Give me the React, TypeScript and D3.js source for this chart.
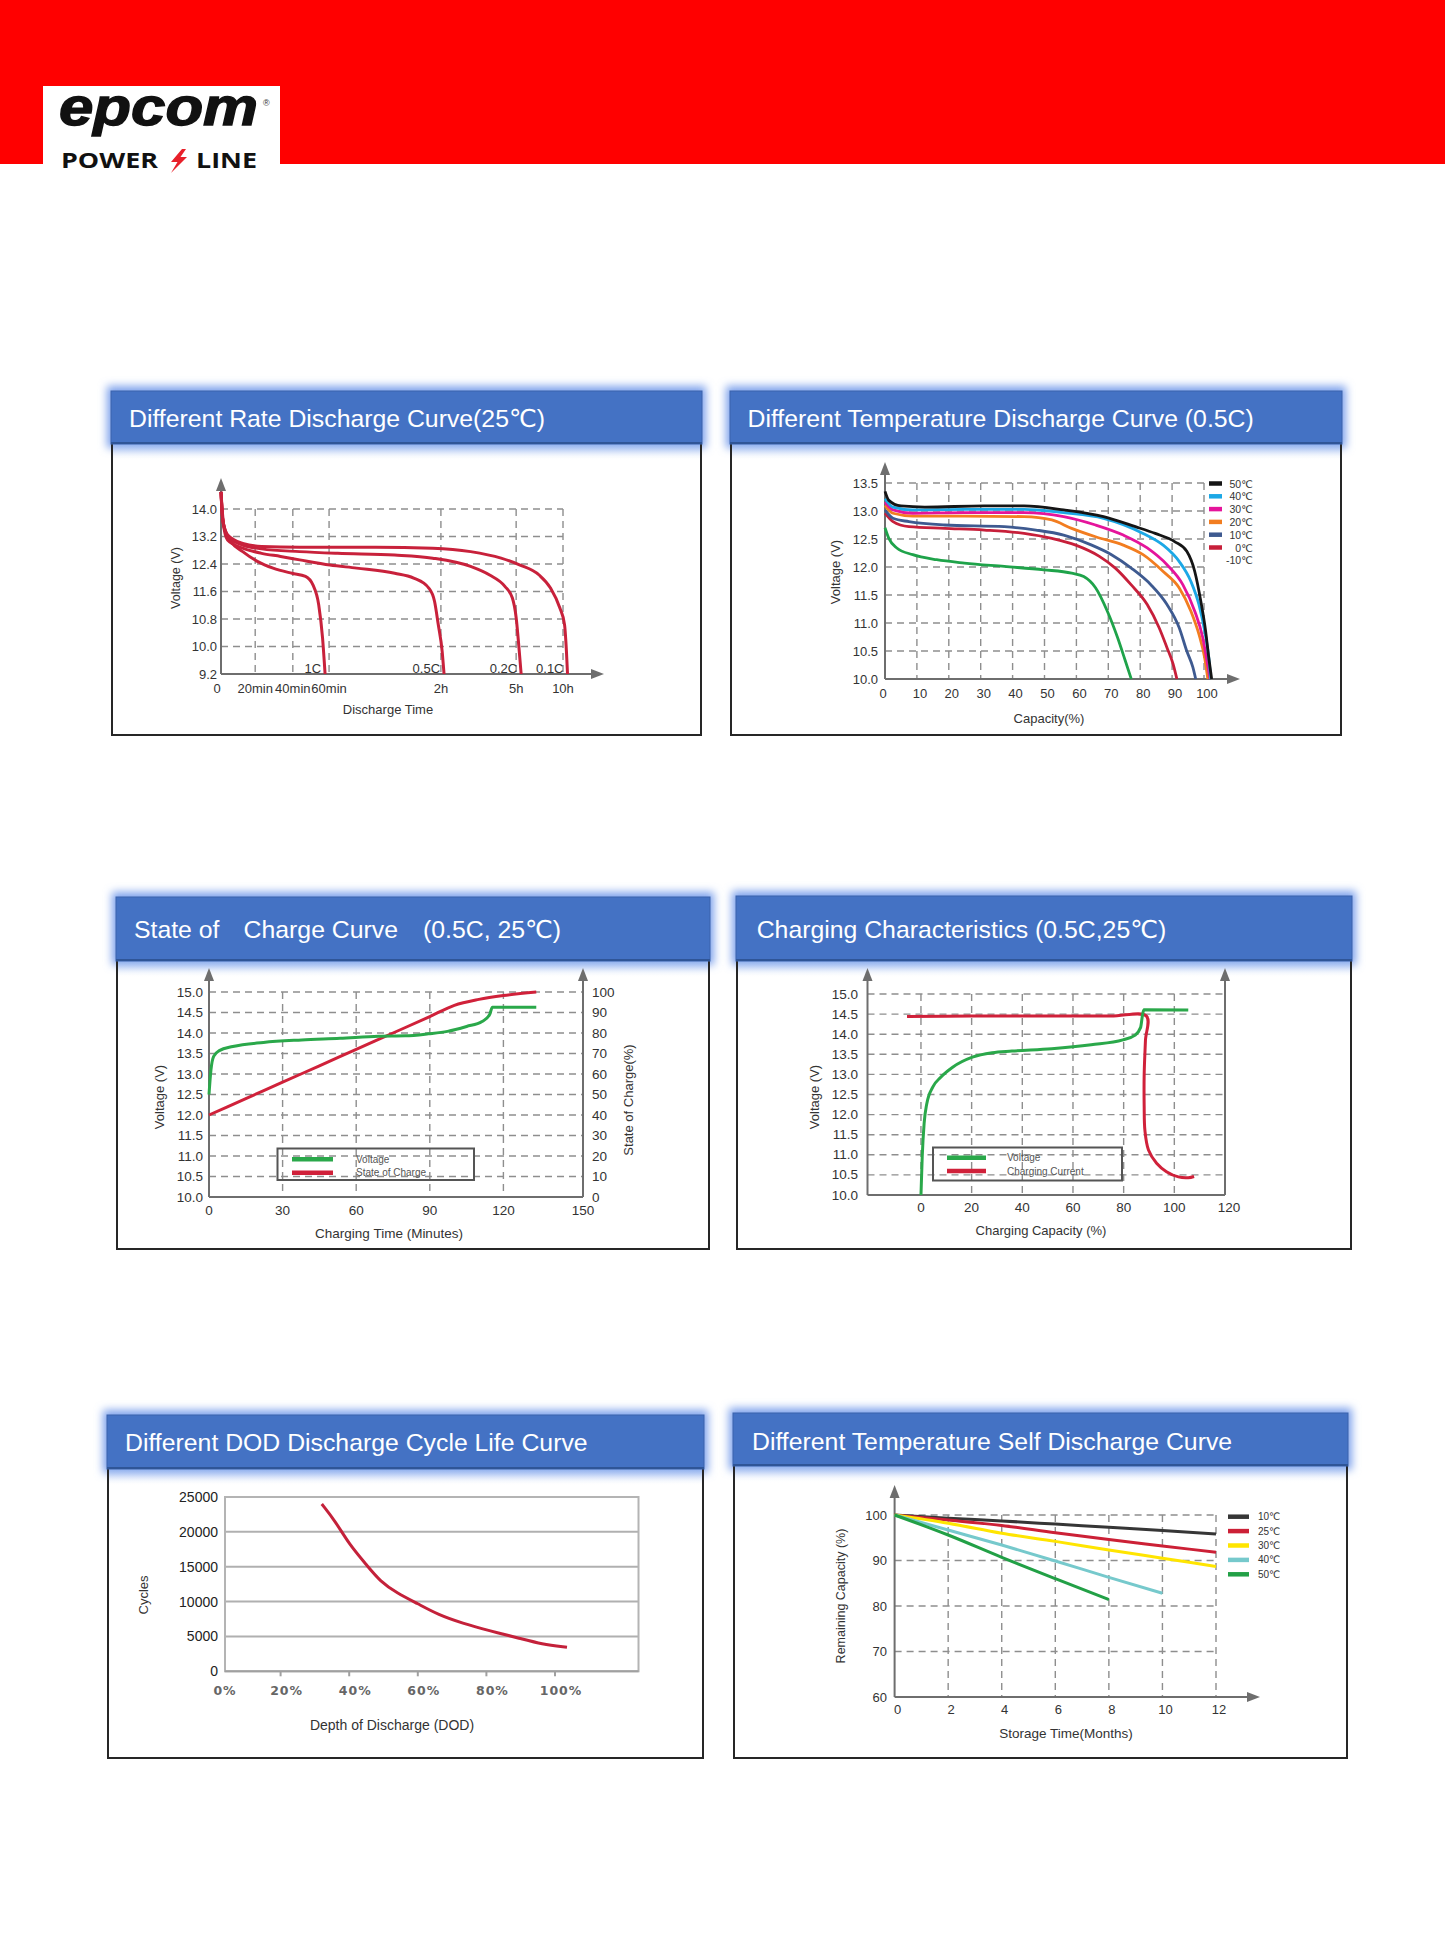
import React from 'react';
import * as d3 from 'd3';

type Pt = [number, number];

// ---------- Different Rate Discharge Curve (25℃): minutes vs volts ----------
const rateTimeTicks = [0, 20, 40, 60, 120, 300, 600];
const rateTimeLabels = ['0', '20min', '40min', '60min', '2h', '5h', '10h'];
const rateVoltTicks = [9.2, 10.0, 10.8, 11.6, 12.4, 13.2, 14.0];
const rate1C: Pt[] = [[0, 14.5], [1.6, 13.54], [6, 13.05], [12.7, 12.76], [21.4, 12.47], [29.5, 12.28], [39.6, 12.13], [47, 12.04], [51.1, 11.79], [54.3, 11.21], [56.4, 10.25], [57.8, 9.2]];
const rate05C: Pt[] = [[0, 14.5], [1, 13.7], [3.8, 13.1], [12.7, 12.86], [23.4, 12.71], [33.5, 12.62], [43.8, 12.52], [60.5, 12.37], [74.8, 12.28], [95.2, 12.13], [105.4, 11.99], [113.5, 11.7], [116.6, 11.31], [118.6, 10.63], [123, 9.86], [127.5, 9.2]];
const rate02C: Pt[] = [[0, 14.5], [1, 13.7], [3.8, 13.2], [12.7, 12.95], [23.4, 12.84], [43.8, 12.76], [64.6, 12.71], [95.2, 12.66], [115.6, 12.57], [191, 12.33], [236.6, 12.08], [273, 11.75], [291, 11.41], [300.3, 10.83], [320, 9.86], [332, 9.2]];
const rate01C: Pt[] = [[0, 14.5], [1, 13.7], [3.8, 13.25], [12.7, 13.0], [23.4, 12.91], [43.8, 12.89], [85, 12.89], [115.6, 12.86], [191, 12.76], [264, 12.57], [325, 12.37], [447, 12.08], [520, 11.7], [580, 11.12], [610, 10.63], [622, 9.86], [629, 9.2]];
const rateNames = ['1C', '0.5C', '0.2C', '0.1C'];
const rateCurves = [rate1C, rate05C, rate02C, rate01C];

// ---------- Different Temperature Discharge Curve (0.5C): capacity % vs volts ----------
const capTicks = [0, 10, 20, 30, 40, 50, 60, 70, 80, 90, 100];
const tempVoltTicks = [10.0, 10.5, 11.0, 11.5, 12.0, 12.5, 13.0, 13.5];
const temp50: Pt[] = [[0, 13.35], [1.2, 13.19], [5, 13.09], [12.5, 13.07], [31.1, 13.09], [43.6, 13.09], [56, 13.02], [68.5, 12.9], [78.5, 12.72], [84.7, 12.6], [90.9, 12.45], [94.6, 12.28], [97.1, 11.92], [99, 11.39], [100.5, 10.86], [101.5, 10.38], [102.4, 10.0]];
const temp40: Pt[] = [[0, 13.22], [2.5, 13.07], [8.7, 13.02], [24.9, 13.03], [43.6, 13.03], [56, 12.97], [68.5, 12.87], [80.9, 12.6], [87.2, 12.39], [92.2, 12.1], [95.9, 11.74], [98.4, 11.33], [100.2, 10.86], [101.5, 10.38], [102.1, 10.0]];
const temp30: Pt[] = [[0, 13.16], [2.5, 13.02], [8.7, 12.96], [24.9, 12.97], [43.6, 12.97], [56, 12.9], [66, 12.75], [74.7, 12.57], [82.2, 12.34], [88.4, 12.04], [93.4, 11.68], [97.1, 11.21], [99.6, 10.74], [100.9, 10.33], [101.9, 10.0]];
const temp20: Pt[] = [[0, 13.1], [2.5, 12.96], [8.7, 12.91], [24.9, 12.91], [43.6, 12.9], [52.3, 12.84], [58.5, 12.69], [66, 12.54], [74.7, 12.39], [80.9, 12.22], [87.2, 11.92], [92.2, 11.63], [95.9, 11.21], [98.4, 10.8], [100.2, 10.38], [101.2, 10.0]];
const temp10: Pt[] = [[0, 13.02], [2.5, 12.87], [7.5, 12.81], [18.7, 12.75], [37.4, 12.72], [47.3, 12.66], [56, 12.57], [64.8, 12.39], [71, 12.22], [77.2, 11.98], [83.4, 11.68], [88.4, 11.33], [92.2, 10.92], [94.6, 10.5], [96.5, 10.21], [97.4, 10.0]];
const temp0: Pt[] = [[0, 12.96], [2.5, 12.81], [7.5, 12.72], [18.7, 12.69], [31.1, 12.66], [43.6, 12.6], [52.3, 12.51], [59.8, 12.39], [67.2, 12.19], [72.2, 11.98], [77.2, 11.68], [82.2, 11.33], [85.9, 10.92], [88.4, 10.56], [90.3, 10.27], [91.5, 10.0]];
const tempMinus10: Pt[] = [[0, 12.7], [1.2, 12.51], [3.7, 12.34], [8.7, 12.22], [16.2, 12.13], [24.9, 12.07], [37.4, 12.01], [49.8, 11.95], [58.5, 11.89], [62.3, 11.83], [66, 11.63], [69.7, 11.21], [72.9, 10.74], [75.3, 10.33], [77.2, 10.0]];
const tempNames = ['50℃', '40℃', '30℃', '20℃', '10℃', '0℃', '-10℃'];
const tempColors = ['#151515', '#1ca8e6', '#e5149b', '#f27d20', '#3e5a90', '#c71f3a', '#1fa34a'];
const tempCurves = [temp50, temp40, temp30, temp20, temp10, temp0, tempMinus10];
const tempSwatch = [true, true, true, true, true, true, false];

// ---------- State of Charge Curve (0.5C, 25℃) ----------
const socTimeTicks = [0, 30, 60, 90, 120, 150];
const chargeVoltTicks = [10.0, 10.5, 11.0, 11.5, 12.0, 12.5, 13.0, 13.5, 14.0, 14.5, 15.0];
const socPctTicks = [0, 10, 20, 30, 40, 50, 60, 70, 80, 90, 100];
const socVoltage: Pt[] = [[0, 12.5], [0.8, 13.1], [1.9, 13.43], [4.2, 13.57], [9.7, 13.67], [22.2, 13.77], [37.8, 13.83], [53.4, 13.87], [69.1, 13.92], [80, 13.93], [89.4, 13.98], [97.2, 14.04], [105, 14.16], [111.3, 14.28], [114.4, 14.45], [115.5, 14.63], [116.5, 14.63], [133.4, 14.63]];
const socCharge: Pt[] = [[0, 40], [15, 48], [30, 56], [45, 64], [60, 72], [75, 80], [90, 88], [100, 93.5], [110, 96.4], [120, 98.3], [133.4, 100]];

// ---------- Charging Characteristics (0.5C, 25℃) ----------
const chgCapTicks = [0, 20, 40, 60, 80, 100, 120];
const chgVoltage: Pt[] = [[0, 10.0], [0.5, 10.95], [1.25, 11.78], [2.3, 12.27], [4.7, 12.69], [7.8, 12.93], [12.5, 13.18], [20.3, 13.43], [28.1, 13.54], [35.9, 13.58], [51.6, 13.64], [67.2, 13.74], [79.7, 13.86], [84.4, 13.97], [86.7, 14.17], [87.5, 14.5], [88, 14.61], [105.5, 14.6]];
const chgCurrent: Pt[] = [[-5.5, 14.44], [20, 14.45], [50, 14.45], [75, 14.45], [89, 14.45], [88.6, 13.84], [88.1, 13.0], [88.1, 12.2], [88.4, 11.6], [89.8, 11.12], [93, 10.79], [96.9, 10.58], [101.6, 10.45], [105.5, 10.43], [107.8, 10.46]];

// ---------- Different DOD Discharge Cycle Life Curve ----------
const dodTicks = [0, 0.2, 0.4, 0.6, 0.8, 1.0];
const cycleTicks = [0, 5000, 10000, 15000, 20000, 25000];
const dodDepth = [0.32, 0.36, 0.4, 0.45, 0.49, 0.54, 0.6, 0.66, 0.73, 0.81, 0.9, 0.96, 1.035];
const dodCycles = [24000, 21500, 18200, 15300, 12900, 11200, 9700, 8100, 6900, 5800, 4700, 3900, 3450];

// ---------- Different Temperature Self Discharge Curve ----------
const storeMonthTicks = [0, 2, 4, 6, 8, 10, 12];
const remainTicks = [60, 70, 80, 90, 100];
const selfMonths = [0, 2, 4, 6, 8, 10, 12];
const self10 = [100, 99.3, 98.7, 98.0, 97.3, 96.6, 95.8];
const self25 = [100, 98.9, 97.7, 96.1, 94.6, 93.2, 91.8];
const self30 = [100, 98.2, 96.0, 94.2, 92.3, 90.5, 88.7];
const self40 = [100, 96.7, 93.4, 89.9, 86.3, 82.8];
const self50 = [100, 95.6, 90.7, 86.0, 81.4];
const selfNames = ['10℃', '25℃', '30℃', '40℃', '50℃'];
const selfColors = ['#363636', '#cc2036', '#ffe500', '#76c9cc', '#22a046'];
const selfSeries = [self10, self25, self30, self40, self50];

// ---------- shared drawing helpers ----------
const SANS = "'Liberation Sans', Arial, Helvetica, 'DejaVu Sans', sans-serif";
const GRID = '#8e8e8e';
const AXIS = '#6e6e6e';
const INK = '#333333';
const DASH = '7 5';
const TITLE_SIZE = 24.8;

// smooth curve through points whose x only grows
function smoothGen(x: any, y: any) {
  return d3.line<Pt>().x(d => x(d[0])).y(d => y(d[1])).curve(d3.curveMonotoneX);
}
// curve for paths that fold back in x
function foldGen(x: any, y: any) {
  return d3.line<Pt>().x(d => x(d[0])).y(d => y(d[1])).curve(d3.curveCatmullRom.alpha(0.5));
}

function UpArrow({ x, tip }: { x: number; tip: number }) {
  return <path d={`M${x - 5},${tip + 13}L${x},${tip}L${x + 5},${tip + 13}Z`} fill={AXIS} />;
}
function RightArrow({ y, tip }: { y: number; tip: number }) {
  return <path d={`M${tip - 13},${y - 5}L${tip},${y}L${tip - 13},${y + 5}Z`} fill={AXIS} />;
}

function HGrid({ vals, y, x1, x2 }: any) {
  return (
    <g>
      {vals.map((v: number) => (
        <line key={v} x1={x1} x2={x2} y1={y(v)} y2={y(v)} stroke={GRID} strokeWidth={1.4} strokeDasharray={DASH} />
      ))}
    </g>
  );
}
function VGrid({ vals, x, y1, y2 }: any) {
  return (
    <g>
      {vals.map((v: number) => (
        <line key={v} x1={x(v)} x2={x(v)} y1={y1} y2={y2} stroke={GRID} strokeWidth={1.4} strokeDasharray={DASH} />
      ))}
    </g>
  );
}

function VTitle({ x, y, text, size = 12.5 }: any) {
  return (
    <text transform={`translate(${x},${y}) rotate(-90)`} textAnchor="middle" dominantBaseline="central"
      fontFamily={SANS} fontSize={size} fill={INK}>{text}</text>
  );
}

function Panel({ x, y, w, h, barH, children }: any) {
  return (
    <g>
      <rect x={x - 5} y={y - 5} width={w + 10} height={barH + 9} fill="#7ea2ec" filter="url(#glow)" />
      <rect x={x} y={y + barH} width={w} height={17} fill="url(#fade)" />
      <path d={`M${x},${y + barH}V${y + h}H${x + w}V${y + barH}`} fill="none" stroke="#262626" strokeWidth={2} />
      <rect x={x - 1} y={y} width={w + 2} height={barH} fill="#4472C4" stroke="#3a62ac" strokeWidth={1} />
      <line x1={x - 1} x2={x + w + 1} y1={y + barH - 1} y2={y + barH - 1} stroke="#2F5597" strokeWidth={2} />
      {children}
    </g>
  );
}

function TitleText({ x, y, children }: any) {
  return <text x={x} y={y} fill="#ffffff" fontFamily={SANS} fontSize={TITLE_SIZE}>{children}</text>;
}

// ---------- chart 1 ----------
function RateChart() {
  const x0 = 221, x1 = 563, yTop = 509, yBot = 674;
  const tickFrac = [0, 0.1, 0.21, 0.316, 0.643, 0.863, 1];
  const x = d3.scaleLinear().domain(rateTimeTicks).range(tickFrac.map(f => x0 + f * (x1 - x0)));
  const y = d3.scaleLinear().domain([9.2, 14.0]).range([yBot, yTop]);
  const gen = smoothGen(x, y);
  return (
    <g fontFamily={SANS}>
      <HGrid vals={rateVoltTicks.slice(1)} y={y} x1={x0} x2={x1} />
      <VGrid vals={rateTimeTicks.slice(1)} x={x} y1={yTop} y2={yBot} />
      <line x1={x0} x2={x0} y1={yBot} y2={488} stroke={AXIS} strokeWidth={2} />
      <UpArrow x={x0} tip={478} />
      <line x1={x0} x2={594} y1={yBot} y2={yBot} stroke={AXIS} strokeWidth={2} />
      <RightArrow y={yBot} tip={604} />
      {rateVoltTicks.map(v => (
        <text key={v} x={x0 - 4} y={y(v)} textAnchor="end" dominantBaseline="central" fontSize={13} fill={INK}>{v.toFixed(1)}</text>
      ))}
      {rateTimeTicks.map((t, i) => (
        <text key={t} x={i === 0 ? x(t) - 4 : x(t)} y={688.5} textAnchor="middle" dominantBaseline="central" fontSize={13} fill={INK}>{rateTimeLabels[i]}</text>
      ))}
      {rateCurves.map((c, i) => (
        <path key={i} d={gen(c) || ''} fill="none" stroke="#c8213b" strokeWidth={3} />
      ))}
      {rateCurves.map((c, i) => (
        <text key={'l' + i} x={x(c[c.length - 1][0]) - 4} y={668.5} textAnchor="end" dominantBaseline="central" fontSize={13} fill={INK}>{rateNames[i]}</text>
      ))}
      <text x={388} y={709.5} textAnchor="middle" dominantBaseline="central" fontSize={13} fill={INK}>Discharge Time</text>
      <VTitle x={176} y={578} text="Voltage (V)" />
    </g>
  );
}

// ---------- chart 2 ----------
function TempChart() {
  const x = d3.scaleLinear().domain([0, 100]).range([885, 1204]);
  const y = d3.scaleLinear().domain([10, 13.5]).range([679, 483]);
  const gen = smoothGen(x, y);
  const order = [6, 5, 4, 3, 2, 1, 0];
  return (
    <g fontFamily={SANS}>
      <HGrid vals={tempVoltTicks.slice(1)} y={y} x1={885} x2={1204} />
      <VGrid vals={capTicks.slice(1)} x={x} y1={483} y2={679} />
      <line x1={885} x2={885} y1={679} y2={472} stroke={AXIS} strokeWidth={2} />
      <UpArrow x={885} tip={462} />
      <line x1={885} x2={1230} y1={679} y2={679} stroke={AXIS} strokeWidth={2} />
      <RightArrow y={679} tip={1240} />
      {tempVoltTicks.map(v => (
        <text key={v} x={878} y={y(v)} textAnchor="end" dominantBaseline="central" fontSize={13} fill={INK}>{v.toFixed(1)}</text>
      ))}
      {capTicks.map(t => (
        <text key={t} x={x(t) + (t === 0 ? -2 : 3)} y={693.5} textAnchor="middle" dominantBaseline="central" fontSize={13} fill={INK}>{t}</text>
      ))}
      {order.map(i => (
        <path key={i} d={gen(tempCurves[i]) || ''} fill="none" stroke={tempColors[i]} strokeWidth={2.8} />
      ))}
      {tempNames.map((n, i) => (
        <g key={n}>
          {tempSwatch[i] && <line x1={1209} x2={1222} y1={483.5 + i * 12.8} y2={483.5 + i * 12.8} stroke={tempColors[i]} strokeWidth={4.5} />}
          <text x={1253} y={483.5 + i * 12.8} textAnchor="end" dominantBaseline="central" fontSize={10.5} fill={INK}>{n}</text>
        </g>
      ))}
      <text x={1049} y={718} textAnchor="middle" dominantBaseline="central" fontSize={13} fill={INK}>Capacity(%)</text>
      <VTitle x={835} y={572} text="Voltage (V)" size={13} />
    </g>
  );
}

// ---------- chart 3 ----------
function SocChart() {
  const left = 209, right = 583, yTop = 992, yBot = 1197;
  const x = d3.scaleLinear().domain([0, 150]).range([left, 577]);
  const y = d3.scaleLinear().domain([10, 15]).range([yBot, yTop]);
  const y2 = d3.scaleLinear().domain([0, 100]).range([yBot, yTop]);
  const genV = smoothGen(x, y);
  const genS = smoothGen(x, y2);
  return (
    <g fontFamily={SANS}>
      <HGrid vals={chargeVoltTicks.slice(1)} y={y} x1={left} x2={right} />
      <VGrid vals={socTimeTicks.slice(1, 5)} x={x} y1={yTop} y2={yBot} />
      <line x1={left} x2={left} y1={yBot} y2={978} stroke={AXIS} strokeWidth={2} />
      <UpArrow x={left} tip={968} />
      <line x1={right} x2={right} y1={yBot} y2={978} stroke={AXIS} strokeWidth={2} />
      <UpArrow x={right} tip={968} />
      <line x1={left} x2={right} y1={yBot} y2={yBot} stroke={AXIS} strokeWidth={2} />
      {chargeVoltTicks.map(v => (
        <text key={v} x={203} y={y(v)} textAnchor="end" dominantBaseline="central" fontSize={13.5} fill={INK}>{v.toFixed(1)}</text>
      ))}
      {socPctTicks.map(v => (
        <text key={v} x={592} y={y2(v)} textAnchor="start" dominantBaseline="central" fontSize={13.5} fill={INK}>{v}</text>
      ))}
      {socTimeTicks.map(t => (
        <text key={t} x={t === 150 ? right : x(t)} y={1210} textAnchor="middle" dominantBaseline="central" fontSize={13.5} fill={INK}>{t}</text>
      ))}
      <path d={genS(socCharge) || ''} fill="none" stroke="#d0213a" strokeWidth={3} />
      <path d={genV(socVoltage) || ''} fill="none" stroke="#2aa84a" strokeWidth={3} />
      <rect x={277.5} y={1148.5} width={196.5} height={31.5} fill="none" stroke="#555" strokeWidth={2} />
      <line x1={292} x2={333} y1={1159.3} y2={1159.3} stroke="#2aa84a" strokeWidth={4.5} />
      <line x1={292} x2={333} y1={1172.7} y2={1172.7} stroke="#d0213a" strokeWidth={4.5} />
      <text x={356} y={1159.3} dominantBaseline="central" fontSize={10} fill="#555">Voltage</text>
      <text x={356} y={1172.7} dominantBaseline="central" fontSize={10} fill="#555">State of Charge</text>
      <text x={389} y={1233} textAnchor="middle" dominantBaseline="central" fontSize={13.5} fill={INK}>Charging Time (Minutes)</text>
      <VTitle x={159} y={1097} text="Voltage (V)" size={13} />
      <VTitle x={628} y={1100} text="State of Charge(%)" size={13} />
    </g>
  );
}

// ---------- chart 4 ----------
function ChargeChart() {
  const left = 867.5, yTop = 994, yBot = 1195;
  const x = d3.scaleLinear().domain([-21.1, 120]).range([left, 1225]);
  const right = x(120);
  const y = d3.scaleLinear().domain([10, 15]).range([yBot, yTop]);
  const genV = smoothGen(x, y);
  const genI = foldGen(x, y);
  return (
    <g fontFamily={SANS}>
      <HGrid vals={chargeVoltTicks.slice(1)} y={y} x1={left} x2={right} />
      <VGrid vals={chgCapTicks.slice(0, 6)} x={x} y1={yTop} y2={yBot} />
      <line x1={left} x2={left} y1={yBot} y2={978} stroke={AXIS} strokeWidth={2} />
      <UpArrow x={left} tip={968} />
      <line x1={right} x2={right} y1={yBot} y2={978} stroke={AXIS} strokeWidth={2} />
      <UpArrow x={right} tip={968} />
      <line x1={left} x2={right} y1={yBot} y2={yBot} stroke={AXIS} strokeWidth={2} />
      {chargeVoltTicks.map(v => (
        <text key={v} x={858} y={y(v)} textAnchor="end" dominantBaseline="central" fontSize={13.5} fill={INK}>{v.toFixed(1)}</text>
      ))}
      {chgCapTicks.map(t => (
        <text key={t} x={x(t) + (t === 120 ? 4 : 0)} y={1207.5} textAnchor="middle" dominantBaseline="central" fontSize={13.5} fill={INK}>{t}</text>
      ))}
      <path d={genI(chgCurrent) || ''} fill="none" stroke="#d0213a" strokeWidth={3} />
      <path d={genV(chgVoltage) || ''} fill="none" stroke="#2aa84a" strokeWidth={3} />
      <rect x={933} y={1147.5} width={189} height={33} fill="none" stroke="#555" strokeWidth={2} />
      <line x1={947} x2={986} y1={1157.7} y2={1157.7} stroke="#2aa84a" strokeWidth={4.5} />
      <line x1={947} x2={986} y1={1171} y2={1171} stroke="#d0213a" strokeWidth={4.5} />
      <text x={1007} y={1157.7} dominantBaseline="central" fontSize={10} fill="#555">Voltage</text>
      <text x={1007} y={1171} dominantBaseline="central" fontSize={10} fill="#555">Charging Current</text>
      <text x={1041} y={1230} textAnchor="middle" dominantBaseline="central" fontSize={13} fill={INK}>Charging Capacity (%)</text>
      <VTitle x={814} y={1097} text="Voltage (V)" size={13} />
    </g>
  );
}

// ---------- chart 5 ----------
function DodChart() {
  const left = 225, right = 638.5, top = 1497, bottom = 1671.3;
  const x = d3.scaleLinear().domain([0.2, 1.0]).range([280.6, 555]);
  const y = d3.scaleLinear().domain([0, 25000]).range([bottom, top]);
  const pts: Pt[] = dodDepth.map((d, i) => [d, dodCycles[i]]);
  const gen = d3.line<Pt>().x(d => x(d[0])).y(d => y(d[1])).curve(d3.curveBasis);
  return (
    <g fontFamily={SANS}>
      {cycleTicks.slice(1, 5).map(v => (
        <line key={v} x1={left} x2={right} y1={y(v)} y2={y(v)} stroke="#b0b0b0" strokeWidth={2} />
      ))}
      <rect x={left} y={top} width={right - left} height={bottom - top} fill="none" stroke="#b4b4b4" strokeWidth={2} />
      <line x1={left} x2={right} y1={bottom} y2={bottom} stroke="#a0a0a0" strokeWidth={2} />
      {dodTicks.slice(1).map(t => (
        <line key={t} x1={x(t)} x2={x(t)} y1={bottom} y2={bottom + 5} stroke="#a0a0a0" strokeWidth={2} />
      ))}
      {cycleTicks.map(v => (
        <text key={v} x={218} y={y(v)} textAnchor="end" dominantBaseline="central" fontSize={14} fill="#222">{v}</text>
      ))}
      {dodTicks.map(t => (
        <text key={t} x={Math.max(x(t) + 6, left)} y={1690} textAnchor="middle" dominantBaseline="central"
          fontFamily="'DejaVu Sans', sans-serif" fontWeight="bold" fontSize={12.5} letterSpacing={1} fill="#666">{`${Math.round(t * 100)}%`}</text>
      ))}
      <path d={gen(pts) || ''} fill="none" stroke="#c4213a" strokeWidth={3} />
      <text x={392} y={1724.5} textAnchor="middle" dominantBaseline="central" fontSize={14} fill={INK}>Depth of Discharge (DOD)</text>
      <VTitle x={143} y={1595} text="Cycles" size={13} />
    </g>
  );
}

// ---------- chart 6 ----------
function SelfChart() {
  const x = d3.scaleLinear().domain([0, 12]).range([894.6, 1216]);
  const y = d3.scaleLinear().domain([60, 100]).range([1697, 1515]);
  const gen = smoothGen(x, y);
  return (
    <g fontFamily={SANS}>
      <HGrid vals={remainTicks.slice(1)} y={y} x1={894.6} x2={1216} />
      <VGrid vals={storeMonthTicks.slice(1)} x={x} y1={1515} y2={1697} />
      <line x1={894.6} x2={894.6} y1={1697} y2={1495} stroke={AXIS} strokeWidth={2} />
      <UpArrow x={894.6} tip={1485} />
      <line x1={894.6} x2={1250} y1={1697} y2={1697} stroke={AXIS} strokeWidth={2} />
      <RightArrow y={1697} tip={1260} />
      {remainTicks.map(v => (
        <text key={v} x={887} y={y(v)} textAnchor="end" dominantBaseline="central" fontSize={13} fill={INK}>{v}</text>
      ))}
      {storeMonthTicks.map(t => (
        <text key={t} x={x(t) + 3} y={1709.5} textAnchor="middle" dominantBaseline="central" fontSize={13} fill={INK}>{t}</text>
      ))}
      {selfSeries.map((s, i) => (
        <path key={i} d={gen(s.map((v, j) => [selfMonths[j], v] as Pt)) || ''} fill="none" stroke={selfColors[i]} strokeWidth={3} />
      ))}
      {selfNames.map((n, i) => (
        <g key={n}>
          <line x1={1228} x2={1249} y1={1516.7 + i * 14.4} y2={1516.7 + i * 14.4} stroke={selfColors[i]} strokeWidth={4.5} />
          <text x={1258} y={1516.7 + i * 14.4} dominantBaseline="central" fontSize={10} fill={INK}>{n}</text>
        </g>
      ))}
      <text x={1066} y={1733} textAnchor="middle" dominantBaseline="central" fontSize={13.5} fill={INK}>Storage Time(Months)</text>
      <VTitle x={841} y={1596} text="Remaining Capacity (%)" size={12.5} />
    </g>
  );
}

function Header() {
  return (
    <g>
      <rect x={0} y={0} width={1445} height={164} fill="#ff0000" />
      <rect x={43} y={86} width={237} height={80} fill="#ffffff" />
      <text x={59} y={125} fontFamily={SANS} fontWeight="bold" fontStyle="italic" fontSize={51}
        textLength={199} lengthAdjust="spacingAndGlyphs" fill="#111" stroke="#111" strokeWidth={1.3}>epcom</text>
      <text x={263} y={106} fontFamily={SANS} fontSize={9} fill="#333">®</text>
      <text x={61} y={168} fontFamily="'Open Sans', 'Noto Sans', sans-serif" fontWeight={700} fontSize={22}
        textLength={97} lengthAdjust="spacingAndGlyphs" fill="#111">POWER</text>
      <path d="M182,149L171,162L177.5,162L171,173L187,157L180.5,157L186,149Z" fill="#e8202a" />
      <text x={196} y={168} fontFamily="'Open Sans', 'Noto Sans', sans-serif" fontWeight={700} fontSize={22}
        textLength={61} lengthAdjust="spacingAndGlyphs" fill="#111">LINE</text>
    </g>
  );
}

export default function App() {
  return (
    <svg width={1445} height={1956} viewBox="0 0 1445 1956" style={{ position: 'absolute', left: 0, top: 0, display: 'block' }}>
      <defs>
        <filter id="glow" x="-10%" y="-60%" width="120%" height="220%">
          <feGaussianBlur stdDeviation="4.5" />
        </filter>
        <linearGradient id="fade" x1="0" y1="0" x2="0" y2="1">
          <stop offset="0" stopColor="#8fb0ee" stopOpacity={0.9} />
          <stop offset="1" stopColor="#ffffff" stopOpacity={0} />
        </linearGradient>
      </defs>
      <rect x={0} y={0} width={1445} height={1956} fill="#ffffff" />
      <Header />

      <Panel x={112} y={391} w={589} h={344} barH={53}>
        <TitleText x={129} y={427}>Different Rate Discharge Curve(25℃)</TitleText>
      </Panel>
      <RateChart />

      <Panel x={731} y={391} w={610} h={344} barH={53}>
        <TitleText x={747.5} y={427}>Different Temperature Discharge Curve (0.5C)</TitleText>
      </Panel>
      <TempChart />

      <Panel x={117} y={897} w={592} h={352} barH={64}>
        <text y={938} fill="#ffffff" fontFamily={SANS} fontSize={TITLE_SIZE}>
          <tspan x={134}>State of</tspan>
          <tspan x={243.6}>Charge Curve</tspan>
          <tspan x={423}>(0.5C, 25℃)</tspan>
        </text>
      </Panel>
      <SocChart />

      <Panel x={737} y={896} w={614} h={353} barH={65}>
        <TitleText x={756.7} y={938}>Charging Characteristics (0.5C,25℃)</TitleText>
      </Panel>
      <ChargeChart />

      <Panel x={108} y={1415} w={595} h={343} barH={54}>
        <TitleText x={125} y={1451}>Different DOD Discharge Cycle Life Curve</TitleText>
      </Panel>
      <DodChart />

      <Panel x={734} y={1413} w={613} h={345} barH={53}>
        <TitleText x={752} y={1450}>Different Temperature Self Discharge Curve</TitleText>
      </Panel>
      <SelfChart />
    </svg>
  );
}
